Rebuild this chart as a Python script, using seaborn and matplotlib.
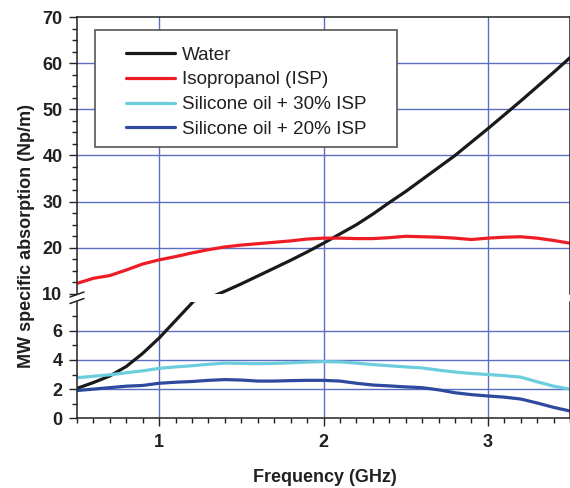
import numpy as np
import pandas as pd
import matplotlib
matplotlib.use("Agg")
import matplotlib.pyplot as plt
from matplotlib.lines import Line2D
from matplotlib.patches import Rectangle
from matplotlib.ticker import MultipleLocator, FixedLocator
import seaborn as sns

# frequency grid (GHz)
FREQ = [0.5, 0.6, 0.7, 0.8, 0.9, 1.0, 1.1, 1.2, 1.3, 1.4, 1.5, 1.6, 1.7, 1.8, 1.9,
        2.0, 2.1, 2.2, 2.3, 2.4, 2.5, 2.6, 2.7, 2.8, 2.9, 3.0, 3.1, 3.2, 3.3, 3.4, 3.5]

WATER = [2.05, 2.45, 2.9, 3.55, 4.45, 5.5, 6.7, 7.9, 9.1, 10.6, 12.2, 13.9, 15.6, 17.3, 19.1,
         21.0, 23.0, 25.0, 27.3, 29.8, 32.2, 34.8, 37.4, 40.0, 42.9, 45.8, 48.8, 51.8, 54.9, 58.0, 61.2]
ISP = [12.3, 13.4, 14.0, 15.2, 16.5, 17.4, 18.1, 18.9, 19.6, 20.2, 20.6, 20.9, 21.2, 21.5, 21.9,
       22.1, 22.1, 22.0, 22.0, 22.2, 22.5, 22.4, 22.3, 22.1, 21.8, 22.1, 22.3, 22.4, 22.1, 21.6, 21.0]
OIL30 = [2.78, 2.88, 2.98, 3.12, 3.25, 3.42, 3.52, 3.6, 3.7, 3.78, 3.76, 3.74, 3.76, 3.8, 3.85,
         3.88, 3.86, 3.78, 3.68, 3.6, 3.52, 3.45, 3.3, 3.17, 3.07, 3.0, 2.92, 2.82, 2.5, 2.2, 2.0]
OIL20 = [1.9, 2.0, 2.1, 2.2, 2.25, 2.4, 2.47, 2.52, 2.6, 2.65, 2.62, 2.55, 2.55, 2.58, 2.6,
         2.6, 2.55, 2.4, 2.28, 2.22, 2.15, 2.1, 1.95, 1.75, 1.62, 1.53, 1.45, 1.32, 1.05, 0.75, 0.5]

LABELS = ["Water", "Isopropanol (ISP)", "Silicone oil + 30% ISP", "Silicone oil + 20% ISP"]
COLORS = ["#1a1a1a", "#ee1c24", "#6ccddd", "#2e4a9e"]

UPPER_TICKS = [10, 20, 30, 40, 50, 60, 70]
LOWER_TICKS = [0, 2, 4, 6]
X_TICKS = [1, 2, 3]

GRID_C = "#5a6fc0"
TEXT_C = "#231f20"

sns.set_style("ticks")
plt.rcParams['font.family'] = ['Liberation Sans', 'DejaVu Sans']

df = pd.DataFrame({"freq": FREQ * 4,
                   "value": WATER + ISP + OIL30 + OIL20,
                   "series": [l for l in LABELS for _ in FREQ]})

W, H = 570, 488
fig = plt.figure(figsize=(W / 100, H / 100), dpi=100)

def fx(px):
    return px / W

def fy(py):
    return 1 - py / H

left, right = fx(77), fx(570)
ax_bg = fig.add_axes([left, fy(418.3), right - left, fy(17) - fy(418.3)], zorder=0)
ax_lo = fig.add_axes([left, fy(418.3), right - left, fy(301.5) - fy(418.3)], zorder=1)
ax_hi = fig.add_axes([left, fy(294), right - left, fy(17) - fy(294)], zorder=1)

# vertical grid lines run through the break
ax_bg.set_xlim(0.5, 3.5)
ax_bg.set_ylim(0, 1)
ax_bg.axis("off")
for xv in X_TICKS:
    ax_bg.axvline(xv, color=GRID_C, lw=1.0)

for ax in (ax_lo, ax_hi):
    ax.set_facecolor("none")
    sns.lineplot(data=df, x="freq", y="value", hue="series", hue_order=LABELS,
                 palette=COLORS, linewidth=2.3, legend=False, ax=ax, sort=False)
    ax.set_xlim(0.5, 3.5)
    ax.set_xlabel("")
    ax.set_ylabel("")
    for s in ax.spines.values():
        s.set_color("#222222")
        s.set_linewidth(1.1)

# lower part
ax_lo.set_ylim(0, 8)
ax_lo.spines["top"].set_visible(False)
ax_lo.yaxis.set_major_locator(FixedLocator(LOWER_TICKS))
ax_lo.yaxis.set_minor_locator(FixedLocator([1, 3, 5, 7]))
ax_lo.xaxis.set_major_locator(FixedLocator(X_TICKS))
ax_lo.xaxis.set_minor_locator(MultipleLocator(0.1))
for yv in LOWER_TICKS[1:]:
    ax_lo.axhline(yv, color=GRID_C, lw=1.0, zorder=0)

# upper part
ax_hi.set_ylim(10, 70)
ax_hi.spines["bottom"].set_visible(False)
ax_hi.yaxis.set_major_locator(FixedLocator(UPPER_TICKS))
ax_hi.yaxis.set_minor_locator(MultipleLocator(2.5))
ax_hi.tick_params(axis="x", which="both", bottom=False, labelbottom=False)
for yv in UPPER_TICKS[1:-1]:
    ax_hi.axhline(yv, color=GRID_C, lw=1.0, zorder=0)

for ax in (ax_lo, ax_hi):
    ax.tick_params(axis="both", which="major", direction="out", length=5.5, width=1.0,
                   labelsize=13, pad=5, colors="#222222", labelcolor=TEXT_C)
    ax.tick_params(axis="both", which="minor", direction="out", length=3.5, width=1.0,
                   colors="#222222")
    for lab in ax.get_xticklabels() + ax.get_yticklabels():
        lab.set_fontweight("bold")
ax_lo.tick_params(axis="x", which="major", pad=6)

# axis break marks
for y0 in (294.5, 301.0):
    fig.add_artist(Line2D([fx(70), fx(84)], [fy(y0 + 2.5), fy(y0 - 2.5)],
                          color="#222222", lw=1.1))

fig.text(fx(27), fy(236), "MW specific absorption (Np/m)", rotation=90,
         ha="center", va="center", fontsize=13, fontweight="bold", color=TEXT_C)
fig.text(fx(325), fy(477), "Frequency (GHz)", ha="center", va="center",
         fontsize=13, fontweight="bold", color=TEXT_C)

# legend with a manual square frame
fig.add_artist(Rectangle((fx(95), fy(147)), fx(397) - fx(95), fy(30) - fy(147),
                         transform=fig.transFigure, facecolor="white",
                         edgecolor="#555555", lw=1.2, zorder=5))
handles = [Line2D([], [], color=c, lw=2.3) for c in COLORS]
leg = fig.legend(handles, LABELS, loc="upper left", bbox_to_anchor=(fx(117), fy(37)),
                 bbox_transform=fig.transFigure, frameon=False, fontsize=13.6,
                 borderpad=0, handlelength=2.55, handletextpad=0.37, labelspacing=0.4)
leg.set_zorder(6)
for t in leg.get_texts():
    t.set_color(TEXT_C)

fig.savefig("out.png", dpi=100)
